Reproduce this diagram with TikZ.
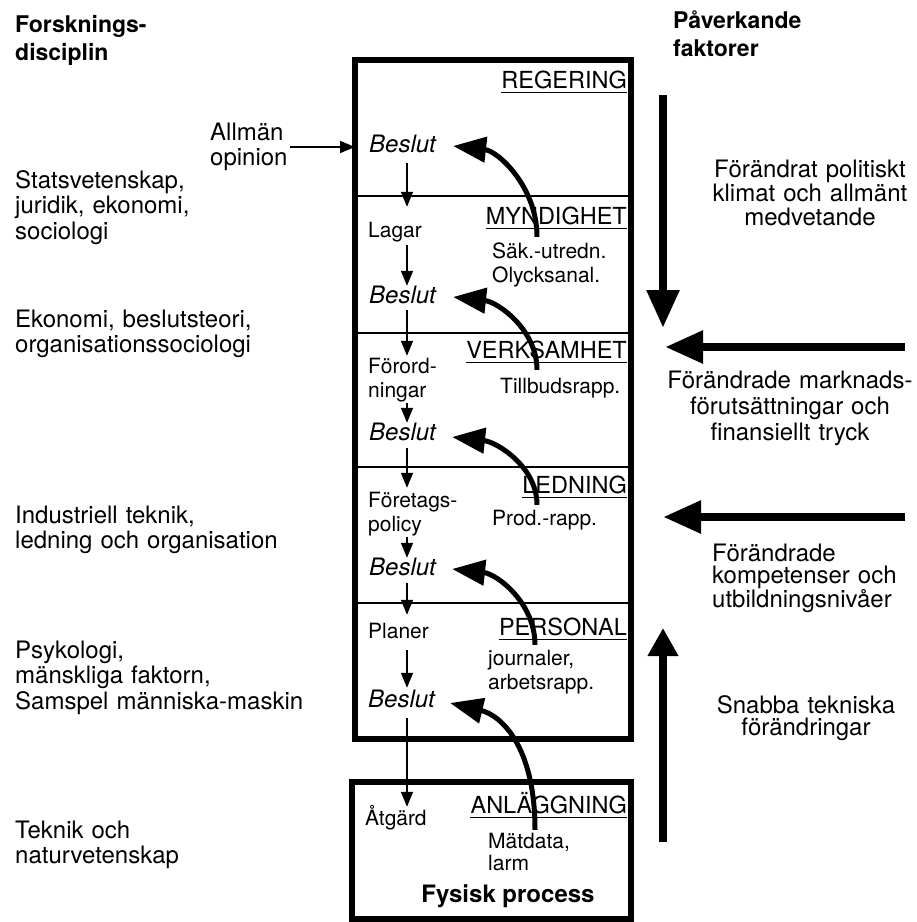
\documentclass[tikz,border=0pt]{standalone}
\usepackage{fontspec}
\setmainfont{TeX Gyre Heros}
\usetikzlibrary{arrows.meta}
\begin{document}
\begin{tikzpicture}[x=1pt,y=-1pt,
  txt/.style={inner sep=0pt, font=\fontsize{24}{25.5}\selectfont},
  lefttxt/.style={txt, anchor=base west, text width=330pt, align=left},
  headtxt/.style={lefttxt, text width=220pt, font=\bfseries\fontsize{23}{28}\selectfont},
  sidetxt/.style={txt, anchor=base, text width=300pt, align=center},
  coltxt/.style={anchor=base west, inner sep=0pt, text height=17pt, text depth=5pt, font=\fontsize{21}{24.5}\selectfont},
  coltwo/.style={coltxt, text width=130pt, align=left, text depth=29.5pt},
  beslut/.style={coltxt, font=\itshape\fontsize{24}{26}\selectfont},
  level/.style={anchor=base east, inner sep=0pt, text depth=4pt, font=\fontsize{23.5}{26}\selectfont},
  uline/.style={line width=1.4pt},
  frame/.style={line width=6pt},
  divider/.style={line width=2pt},
  flow/.style={line width=1.6pt, -{Triangle[length=15pt,width=12pt]}, shorten <=3pt, shorten >=1pt},
  feedback/.style={line width=5pt, -{Triangle[length=33pt,width=25pt]}},
  factor/.style={line width=8.5pt, -{Triangle[length=38pt,width=31pt]}},
]
\useasboundingbox (0,0) rectangle (917,922);

% column headings
\node[headtxt] (forsk) at (15,32) {Forsknings-\\disciplin};
\node[headtxt] (paverk) at (673,28) {Påverkande\\faktorer};

% research disciplines
\node[lefttxt] (d1) at (15,188) {Statsvetenskap,\\juridik, ekonomi,\\sociologi};
\node[lefttxt] (d2) at (15,327) {Ekonomi, beslutsteori,\\organisationssociologi};
\node[lefttxt] (d3) at (15,523) {Industriell teknik,\\ledning och organisation};
\node[lefttxt] (d4) at (15,658) {Psykologi,\\mänskliga faktorn,\\Samspel människa-maskin};
\node[lefttxt] (d5) at (15,838) {Teknik och\\naturvetenskap};

\node[txt, align=left, anchor=west] (opin) at (210,147) {Allmän\\opinion};

% influencing factors
\node[sidetxt, font=\fontsize{24}{24}\selectfont] (f1) at (810,177) {Förändrat politiskt\\klimat och allmänt\\medvetande};
\node[sidetxt, font=\fontsize{24}{26}\selectfont] (f2) at (790,388) {Förändrade marknads-\\förutsättningar och\\finansiellt tryck};
\node[lefttxt, text width=200pt, font=\fontsize{24}{22.5}\selectfont] (f3) at (712,561) {Förändrade\\kompetenser och\\utbildningsnivåer};
\node[sidetxt, font=\fontsize{24}{22}\selectfont] (f4) at (806,713) {Snabba tekniska\\förändringar};

% system frames
\coordinate (upNW) at (355,60);
\coordinate (upSE) at (631,739);
\coordinate (loNW) at (352,782);
\coordinate (loSE) at (631,919);
\draw[frame] (upNW) rectangle (upSE);
\draw[frame] (loNW) rectangle (loSE);
\foreach \yy in {196,333,467,603}
  \draw[divider] (355,\yy) -- (631,\yy);

% levels
\node[level] (regering) at (627,88) {REGERING};
\node[level] (myndighet) at (627,224) {MYNDIGHET};
\node[level] (verksamhet) at (627,358) {VERKSAMHET};
\node[level] (ledning) at (627,493) {LEDNING};
\node[level] (personal) at (627,635) {PERSONAL};
\node[level] (anlaggning) at (627,813) {ANLÄGGNING};
\foreach \n in {regering,myndighet,verksamhet,ledning,personal,anlaggning}
  \draw[uline] (\n.south west) -- (\n.south east);

% decisions and their outcomes
\node[beslut] (b1) at (369,152) {Beslut};
\node[beslut] (b2) at (369,303) {Beslut};
\node[beslut] (b3) at (369,440) {Beslut};
\node[beslut] (b4) at (369,575) {Beslut};
\node[beslut] (b5) at (368,707) {Beslut};
\node[coltxt] (lagar) at (368,237) {Lagar};
\node[coltwo] (fororD) at (368,373) {Förord-\\ningar};
\node[coltwo] (ftgpol) at (368,507) {Företags-\\policy};
\node[coltxt] (planer) at (368,638) {Planer};
\node[coltxt] (atgard) at (365,825) {Åtgärd};

% feedback sources
\node[coltwo] (saek) at (492,258) {Säk.-utredn.\\Olycksanal.};
\node[coltxt] (tillbud) at (500,393) {Tillbudsrapp.};
\node[coltxt] (prod) at (492,525) {Prod.-rapp.};
\node[coltwo] (journ) at (488,665) {journaler,\\arbetsrapp.};
\node[coltwo, font=\fontsize{21}{22}\selectfont] (matdata) at (488,848) {Mätdata,\\larm};
\node[txt, font=\bfseries\fontsize{24}{26}\selectfont, anchor=base] (fysisk) at (508,902) {Fysisk process};

% downward control flow
\coordinate (colx) at (407,0);
\draw[flow, shorten <=6pt, shorten >=13pt] (b1.south -| colx) -- (lagar.north -| colx);
\draw[flow, shorten >=0pt] (lagar.south -| colx) -- (b2.north -| colx);
\draw[flow, shorten <=2pt, shorten >=0pt] (b2.south -| colx) -- (fororD.north -| colx);
\draw[flow, shorten <=0pt, shorten >=0pt] (fororD.south -| colx) -- (b3.north -| colx);
\draw[flow, shorten >=2pt] (b3.south -| colx) -- (ftgpol.north -| colx);
\draw[flow, shorten <=0pt, shorten >=0pt] (ftgpol.south -| colx) -- (b4.north -| colx);
\draw[flow, shorten >=6pt] (b4.south -| colx) -- (planer.north -| colx);
\draw[flow, shorten <=7pt, shorten >=2pt] (planer.south -| colx) -- (b5.north -| colx);
\draw[flow, shorten <=6pt, shorten >=1pt] (b5.south -| colx) -- (atgard.north -| colx);

% public opinion
\draw[flow, shorten <=2pt, shorten >=0pt] (opin.east) -- (opin.east -| upNW);

% feedback to decisions
\draw[feedback] ([xshift=45pt,yshift=4pt]saek.north west) .. controls +(0,-50) and +(45,5) .. ([xshift=17pt]b1.east);
\draw[feedback] ([xshift=37pt,yshift=6pt]tillbud.north west) .. controls +(0,-40) and +(45,5) .. ([xshift=17pt]b2.east);
\draw[feedback] ([xshift=45pt,yshift=3pt]prod.north west) .. controls +(0,-38) and +(45,5) .. ([xshift=16pt,yshift=-3pt]b3.east);
\draw[feedback] ([xshift=47pt,yshift=3pt]journ.north west) .. controls +(0,-42) and +(45,5) .. ([xshift=16pt]b4.east);
\draw[feedback] ([xshift=47pt,yshift=1pt]matdata.north west) .. controls +(0,-85) and +(50,12) .. ([xshift=15pt,yshift=-2pt]b5.east);

% external pressures
\coordinate (p1s) at (663,95);  \coordinate (p1e) at (663,328);
\coordinate (m1s) at (905,347); \coordinate (m1e) at (665,347);
\coordinate (m2s) at (905,517); \coordinate (m2e) at (663,517);
\coordinate (t1s) at (663,842); \coordinate (t1e) at (663,628);
\draw[factor] (p1s) -- (p1e);
\draw[factor] (m1s) -- (m1e);
\draw[factor] (m2s) -- (m2e);
\draw[line width=8.5pt, -{Triangle[length=28pt,width=29pt]}] (t1s) -- (t1e);
\end{tikzpicture}
\end{document}
